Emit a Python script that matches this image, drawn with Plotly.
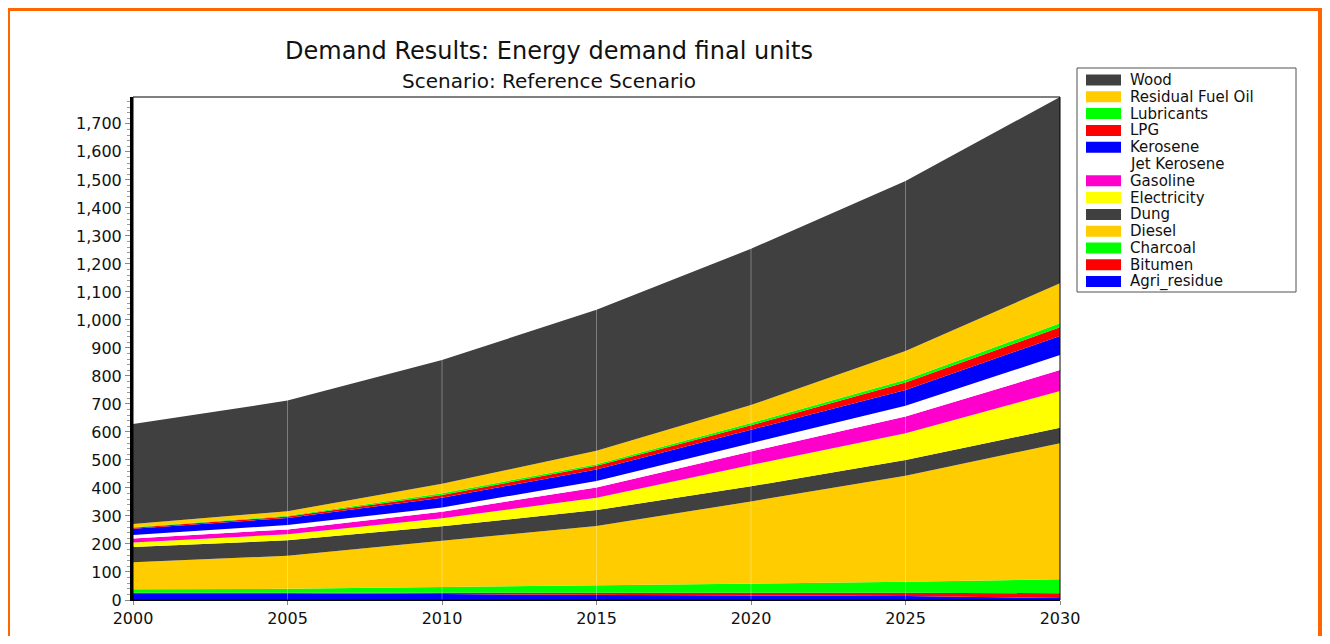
import plotly.graph_objects as go

# ---------------- data ----------------
years = [2000, 2005, 2010, 2015, 2020, 2025, 2030]

agri_residue      = [24, 24, 21, 18, 17, 14, 7]
bitumen           = [2, 2, 4, 7, 10, 12, 17]
charcoal          = [12, 14, 21, 27, 31, 39, 50]
diesel            = [97, 118, 166, 212, 294, 379, 486]
dung              = [54, 55, 51, 57, 54, 56, 55]
electricity       = [16, 22, 29, 44, 76, 95, 131]
gasoline          = [15, 17, 23, 37, 48, 60, 75]
jet_kerosene      = [12, 16, 15, 23, 30, 39, 54]
kerosene          = [22, 25, 35, 41, 48, 56, 68]
lpg               = [4, 5, 10, 13, 16, 27, 31]
lubricants        = [2, 3, 6, 6, 8, 9, 14]
residual_fuel_oil = [11, 16, 34, 48, 64, 103, 143]
wood              = [357, 395, 442, 503, 558, 607, 665]

# stacking order (bottom -> top)
series_names = ["Agri_residue", "Bitumen", "Charcoal", "Diesel", "Dung",
                "Electricity", "Gasoline", "Jet Kerosene", "Kerosene", "LPG",
                "Lubricants", "Residual Fuel Oil", "Wood"]
series_values = [agri_residue, bitumen, charcoal, diesel, dung, electricity,
                 gasoline, jet_kerosene, kerosene, lpg, lubricants,
                 residual_fuel_oil, wood]
series_colors = ["#0000FF", "#FF0000", "#00FF00", "#FFCC00", "#404040",
                 "#FFFF00", "#FF00CC", "#FFFFFF", "#0000FF", "#FF0000",
                 "#00FF00", "#FFCC00", "#404040"]

title_text = "Demand Results: Energy demand final units"
subtitle_text = "Scenario: Reference Scenario"

# ---------------- layout geometry ----------------
# The page body adds an 8px margin on every side, so the figure is drawn
# 8px in from the top-left corner and must stay inside the window.
OFF = 8
W, H = 1330 - 2 * OFF, 644 - 2 * OFF
L, R, T, B = 133 - OFF, 1060 - OFF, 97 - OFF, 600 - OFF
FONT = "DejaVu Sans"


def px_x(px):
    return (px - OFF - L) / (R - L)


def px_y(py):
    return (B - (py - OFF)) / (B - T)


totals = [sum(v[i] for v in series_values) for i in range(len(years))]
ymax = max(totals)

fig = go.Figure()
for name, vals, col in zip(series_names, series_values, series_colors):
    fig.add_trace(go.Scatter(
        x=years, y=vals, name=name, stackgroup="one", mode="lines",
        line=dict(width=0, color=col), fillcolor=col, showlegend=False,
        hovertemplate=name + ": %{y}<extra></extra>"))

shapes = []
# vertical grid lines drawn over the areas
for yr in years[1:-1]:
    shapes.append(dict(type="line", xref="x", yref="paper", x0=yr, x1=yr,
                       y0=0, y1=1, layer="above",
                       line=dict(color="rgba(255,255,255,0.32)", width=1)))
# plot frame (top/right thin)
shapes.append(dict(type="rect", xref="paper", yref="paper", x0=0, x1=1,
                   y0=0, y1=1, layer="above",
                   line=dict(color="black", width=1)))
# orange outer border
shapes.append(dict(type="rect", xref="paper", yref="paper",
                   x0=px_x(8), x1=px_x(1320), y0=px_y(660), y1=px_y(9),
                   layer="above", line=dict(color="#FF6600", width=4)))
# legend box
shapes.append(dict(type="rect", xref="paper", yref="paper",
                   x0=px_x(1077), x1=px_x(1296), y0=px_y(292), y1=px_y(68),
                   layer="above", fillcolor="white",
                   line=dict(color="#505050", width=1)))

annotations = [
    dict(text=title_text, xref="paper", yref="paper", x=px_x(549), y=px_y(51),
         xanchor="center", yanchor="middle", showarrow=False,
         font=dict(family=FONT, size=24, color="#111111")),
    dict(text=subtitle_text, xref="paper", yref="paper", x=px_x(549), y=px_y(81),
         xanchor="center", yanchor="middle", showarrow=False,
         font=dict(family=FONT, size=20, color="#111111")),
]

# custom legend (top = last series)
row0, row_step = 80, 16.8
for i, (name, col) in enumerate(zip(series_names[::-1], series_colors[::-1])):
    cy = row0 + i * row_step
    shapes.append(dict(type="rect", xref="paper", yref="paper",
                       x0=px_x(1086), x1=px_x(1121),
                       y0=px_y(cy + 5.5), y1=px_y(cy - 5.5),
                       layer="above", fillcolor=col, line=dict(width=0)))
    annotations.append(dict(text=name, xref="paper", yref="paper",
                            x=px_x(1129), y=px_y(cy), xanchor="left",
                            yanchor="middle", showarrow=False, borderpad=0,
                            font=dict(family=FONT, size=15, color="#111111")))

fig.update_layout(
    width=W, height=H, autosize=False,
    margin=dict(l=L, r=W - R, t=T, b=H - B, pad=0, autoexpand=False),
    paper_bgcolor="white", plot_bgcolor="white",
    showlegend=False,
    font=dict(family=FONT, size=16, color="#111111"),
    shapes=shapes, annotations=annotations,
    xaxis=dict(range=[years[0], years[-1]], tickmode="array", tickvals=years,
               ticktext=[str(y) for y in years], showgrid=False, zeroline=False,
               showline=True, linecolor="black", linewidth=1, automargin=False,
               ticks="outside", ticklen=4, tickcolor="#888888",
               tickfont=dict(family=FONT, size=16, color="#111111")),
    yaxis=dict(range=[0, ymax], dtick=100, tickformat=",d", showgrid=False,
               zeroline=False, showline=True, linecolor="black", linewidth=3,
               automargin=False,
               ticks="outside", ticklen=5, tickcolor="#888888",
               minor=dict(dtick=20, ticks="outside", ticklen=3,
                          tickcolor="#999999", showgrid=False),
               tickfont=dict(family=FONT, size=16, color="#111111")),
)

fig.write_html("out.html")
